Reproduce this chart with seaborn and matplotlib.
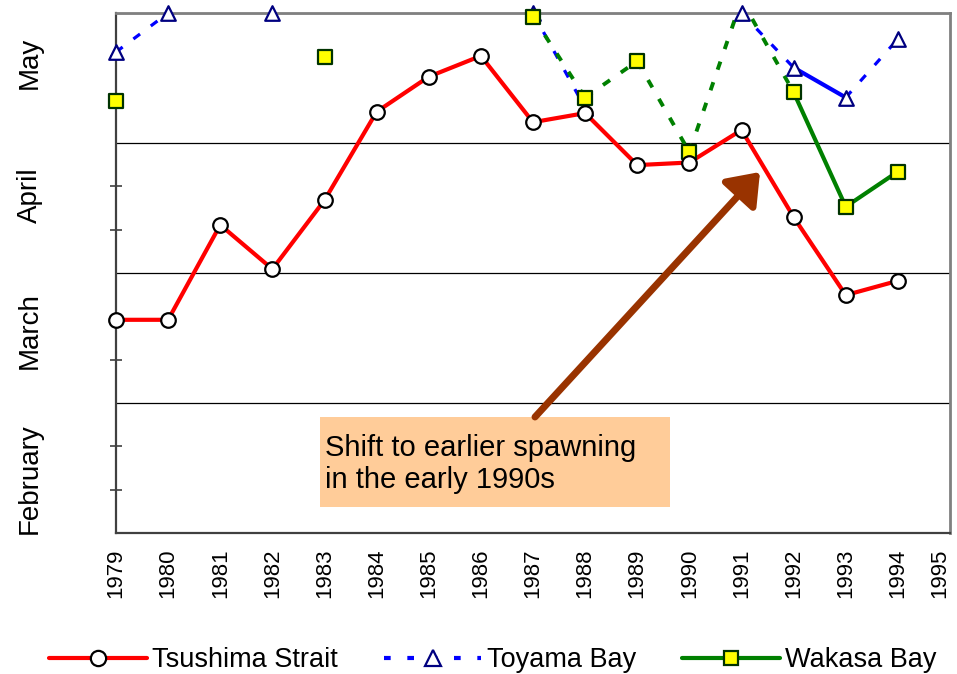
import numpy as np
import pandas as pd
import matplotlib
matplotlib.use("Agg")
import matplotlib.pyplot as plt
import seaborn as sns
from matplotlib.lines import Line2D
from matplotlib.patches import Rectangle
import matplotlib.transforms as mtransforms

# ---------------- data (months since 1 February: 0=Feb 1, 4=end of May) -------------
years = list(range(1979, 1995))
tsushima = [1.64, 1.64, 2.37, 2.03, 2.56, 3.24, 3.51, 3.67, 3.16, 3.23, 2.83, 2.85, 3.10, 2.43, 1.83, 1.94]
toyama = [3.70, 4.00, np.nan, 4.00, np.nan, np.nan, np.nan, np.nan, 4.00, 3.27, np.nan, np.nan, 4.00, 3.58, 3.35, 3.80]
wakasa = [3.32, np.nan, np.nan, np.nan, 3.66, np.nan, np.nan, np.nan, 3.97, 3.35, 3.63, 2.93, 4.10, 3.39, 2.51, 2.78]
toyama_solid = [(1992, 1993)]
wakasa_solid = [(1992, 1993), (1993, 1994)]
month_labels = ["February", "March", "April", "May"]
month_label_pos = [0.42, 1.56, 2.60, 3.62]
year_ticks = list(range(1979, 1996))
series_names = ["Tsushima Strait", "Toyama Bay", "Wakasa Bay"]
note_text = "Shift to earlier spawning\nin the early 1990s"

# ---------------- style ----------------
sns.set_theme(style="white")
plt.rcParams["font.family"] = ["Liberation Sans", "DejaVu Sans"]
plt.rcParams["text.color"] = "black"
plt.rcParams["xtick.color"] = "black"
plt.rcParams["ytick.color"] = "black"
plt.rcParams["xtick.labelcolor"] = "black"

RED = "#FF0000"
BLUE = "#0000FF"
NAVY = "#000080"
GREEN = "#008000"
YELLOW = "#FFFF00"
SQEDGE = "#003300"

fig = plt.figure(figsize=(9.57, 6.74), dpi=100)
ax = fig.add_axes([116 / 957, 1 - 533 / 674, (950 - 116) / 957, 520 / 674])


def draw_pairs(yrs, vals, solid_pairs, color, dash, lw_dash, lw_solid):
    for i in range(len(yrs) - 1):
        a, b = vals[i], vals[i + 1]
        if np.isnan(a) or np.isnan(b):
            continue
        seg = pd.DataFrame({"year": [yrs[i], yrs[i + 1]], "v": [a, b]})
        if (yrs[i], yrs[i + 1]) in solid_pairs:
            sns.lineplot(data=seg, x="year", y="v", ax=ax, color=color, lw=lw_solid,
                         estimator=None, sort=False, legend=False, zorder=3)
        else:
            sns.lineplot(data=seg, x="year", y="v", ax=ax, color=color, lw=lw_dash,
                         linestyle=dash, estimator=None, sort=False, legend=False, zorder=3)


# Tsushima Strait
df_t = pd.DataFrame({"year": years, "v": tsushima})
sns.lineplot(data=df_t, x="year", y="v", ax=ax, color=RED, lw=3, estimator=None,
             sort=False, legend=False, zorder=4)

# Toyama Bay
draw_pairs(years, toyama, toyama_solid, BLUE, (0, (2.6, 4.2)), 2.3, 3.0)
# Wakasa Bay
draw_pairs(years, wakasa, wakasa_solid, GREEN, (0, (2.2, 3.4)), 2.8, 3.0)

# markers (only those inside the plotting range)
df_w = pd.DataFrame({"year": years, "v": wakasa}).dropna()
df_w = df_w[df_w["v"] <= 4.0]
sns.scatterplot(data=df_w, x="year", y="v", ax=ax, marker="s", s=100, color=YELLOW,
                edgecolor=SQEDGE, linewidth=1.6, clip_on=False, zorder=6, legend=False)
df_y = pd.DataFrame({"year": years, "v": toyama}).dropna()
sns.scatterplot(data=df_y, x="year", y="v", ax=ax, marker="^", s=110, color="white",
                edgecolor=NAVY, linewidth=1.6, clip_on=False, zorder=5, legend=False)
sns.scatterplot(data=df_t, x="year", y="v", ax=ax, marker="o", s=110, color="white",
                edgecolor="black", linewidth=1.6, clip_on=False, zorder=7, legend=False)

# axes
ax.set_xlim(1979, 1995)
ax.set_ylim(0, 4)
ax.set_xlabel("")
ax.set_ylabel("")
ax.set_xticks(year_ticks)
ax.set_xticklabels([str(y) for y in year_ticks], rotation=90, fontsize=16, color="black")
ax.get_xticklabels()[-1].set_horizontalalignment("right")
ax.set_yticks([0, 1, 2, 3, 4])
ax.set_yticklabels([])
ax.set_yticks([k / 3 for k in range(12) if k % 3], minor=True)
ax.tick_params(axis="x", direction="out", length=8, width=1.2, color="#404040", pad=3)
ax.tick_params(axis="y", which="major", direction="inout", length=12, width=1.2, color="#404040")
ax.tick_params(axis="y", which="minor", direction="inout", length=9, width=1.2, color="#404040", left=True)
ax.grid(axis="y", which="major", color="black", lw=0.9)
ax.grid(axis="x", visible=False)
ax.set_axisbelow(True)

for s in ["left", "bottom"]:
    ax.spines[s].set_color("#404040")
    ax.spines[s].set_linewidth(1.6)
for s in ["top", "right"]:
    ax.spines[s].set_color("#808080")
    ax.spines[s].set_linewidth(2.0)

trans = mtransforms.blended_transform_factory(ax.transAxes, ax.transData)
for lab, pos in zip(month_labels, month_label_pos):
    ax.text(-0.103, pos, lab, transform=trans, rotation=90, ha="center", va="center",
            fontsize=20, color="black")

# annotation box and arrow
ax.add_patch(Rectangle(((320 - 116) / 834, (533 - 507) / 520), (670 - 320) / 834, 90 / 520,
                       transform=ax.transAxes, facecolor="#FFCC99", edgecolor="none", zorder=8))
ax.text((325 - 116) / 834, (533 - 464) / 520, note_text, transform=ax.transAxes,
        ha="left", va="center", fontsize=21, linespacing=1.15, color="black", zorder=9)
ax.annotate("", xy=(644 / 834, 361 / 520), xytext=(419 / 834, 116 / 520),
            xycoords="axes fraction", textcoords="axes fraction",
            arrowprops=dict(arrowstyle="-|>,head_length=0.6,head_width=0.45", lw=5,
                            color="#993300", mutation_scale=30, shrinkA=0, shrinkB=0),
            zorder=9)

# legend
handles = [
    Line2D([], [], color=RED, lw=3, marker="o", markersize=11, markerfacecolor="white",
           markeredgecolor="black", markeredgewidth=1.6),
    Line2D([], [], color=BLUE, lw=3, linestyle=(0, (1.6, 4.0)), marker="^", markersize=11,
           markerfacecolor="white", markeredgecolor=NAVY, markeredgewidth=1.6),
    Line2D([], [], color=GREEN, lw=3, marker="s", markersize=10, markerfacecolor=YELLOW,
           markeredgecolor=SQEDGE, markeredgewidth=1.6),
]
leg = fig.legend(handles, series_names, loc="center", bbox_to_anchor=(0.515, 1 - 660 / 674), ncol=3,
                 frameon=False, fontsize=19.5, handlelength=3.6, handletextpad=0.2, columnspacing=1.7)
for t in leg.get_texts():
    t.set_color("black")

fig.savefig("out.png", dpi=100)
